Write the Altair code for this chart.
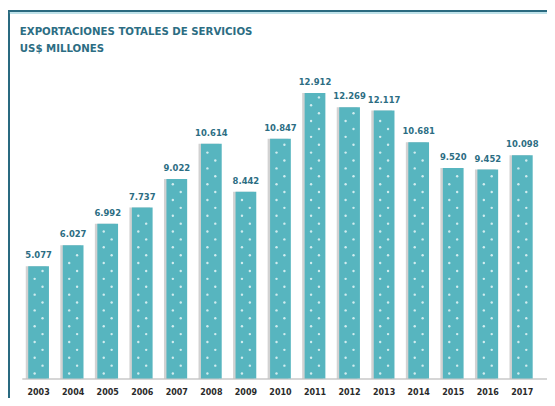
import altair as alt
import pandas as pd

years = ["2003", "2004", "2005", "2006", "2007", "2008", "2009", "2010",
         "2011", "2012", "2013", "2014", "2015", "2016", "2017"]
values = [5.077, 6.027, 6.992, 7.737, 9.022, 10.614, 8.442, 10.847,
          12.912, 12.269, 12.117, 10.681, 9.520, 9.452, 10.098]
labels = ["5.077", "6.027", "6.992", "7.737", "9.022", "10.614", "8.442", "10.847",
          "12.912", "12.269", "12.117", "10.681", "9.520", "9.452", "10.098"]
title_lines = ["EXPORTACIONES TOTALES DE SERVICIOS", "US$ MILLONES"]

df = pd.DataFrame({"year": years, "value": values, "label": labels})

FONT = "DejaVu Sans Condensed, sans-serif"
TEAL = "#57b5bf"
DARK = "#2c6d83"

xscale = alt.Scale(paddingInner=0.4, paddingOuter=0.3, align=0.31)
yscale = alt.Scale(domain=[0, 14], nice=False)

x = alt.X("year:N", scale=xscale, sort=years,
          axis=alt.Axis(title=None, labelAngle=0, ticks=False, domainColor="#c9c9c9",
                        domainWidth=1.5, labelFont=FONT, labelFontSize=9,
                        labelFontWeight="bold", labelColor="#2a2a2a", labelPadding=9))
y = alt.Y("value:Q", scale=yscale, axis=None)

base = alt.Chart(df)

shadow = base.mark_bar(color="#8f8f8f", opacity=0.4, xOffset=-2.5).encode(x=x, y=y)
bars = base.mark_bar(color=TEAL).encode(x=x, y=y)

dotsA = base.transform_calculate(
    d="sequence(0.22, datum.value - 0.12, 0.714)"
).transform_flatten(["d"]).mark_circle(
    color="#e6f6f7", size=6, opacity=0.85, xOffset=-4
).encode(x=x, y=alt.Y("d:Q", scale=yscale, axis=None))

dotsB = base.transform_calculate(
    d="sequence(0.577, datum.value - 0.12, 0.714)"
).transform_flatten(["d"]).mark_circle(
    color="#e6f6f7", size=6, opacity=0.85, xOffset=4
).encode(x=x, y=alt.Y("d:Q", scale=yscale, axis=None))

text = base.mark_text(baseline="alphabetic", dy=-8, font=FONT, fontSize=9.5,
                      fontWeight="bold", color=DARK).encode(x=x, y=y, text="label:N")

tdf = pd.DataFrame({"t": title_lines, "i": [0, 1]})
title1 = alt.Chart(tdf).transform_filter("datum.i == 0").mark_text(
    align="left", baseline="alphabetic", font=FONT, fontSize=11.5, fontWeight="bold",
    color=DARK).encode(text="t:N", x=alt.value(-2), y=alt.value(-35))
title2 = alt.Chart(tdf).transform_filter("datum.i == 1").mark_text(
    align="left", baseline="alphabetic", font=FONT, fontSize=11.5, fontWeight="bold",
    color=DARK).encode(text="t:N", x=alt.value(-2), y=alt.value(-17))

frame_left = base.mark_rule(color="#2a6a80", strokeWidth=2).encode(
    x=alt.value(-13), y=alt.value(-59), y2=alt.value(340))
frame_top = base.mark_rule(color="#2a6a80", strokeWidth=1.5).encode(
    x=alt.value(-14), x2=alt.value(540), y=alt.value(-58.5))
frame_top2 = base.mark_rule(color="#bfe3ea", strokeWidth=1).encode(
    x=alt.value(-12), x2=alt.value(540), y=alt.value(-57))

chart = alt.layer(frame_left, frame_top, frame_top2, shadow, bars, dotsA, dotsB, text,
                  title1, title2).properties(
    width=533, height=314,
    padding={"left": 14, "right": 0, "top": 59, "bottom": 17},
    autosize=alt.AutoSizeParams(type="none"),
).configure_view(stroke=None)

chart.save("out.html", embed_options={"renderer": "svg", "actions": False})
